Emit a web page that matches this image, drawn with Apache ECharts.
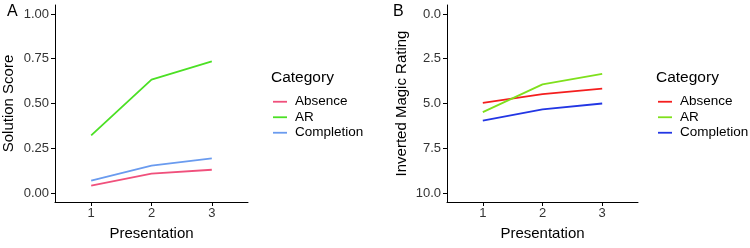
<!DOCTYPE html>
<html>
<head>
<meta charset="utf-8">
<script src="https://cdn.jsdelivr.net/npm/echarts@6/dist/echarts.min.js"></script>
<style>
  html, body { margin: 0; padding: 0; background: #fff; }
  #chart { width: 750px; height: 248px; }
</style>
</head>
<body>
<div id="chart"></div>
<script>
// data
var presentations = [1, 2, 3];
var categories = ['Absence', 'AR', 'Completion'];
// panel A: solution score
var scoreAbsence = [0.041, 0.108, 0.130];
var scoreAR = [0.322, 0.633, 0.735];
var scoreCompletion = [0.069, 0.153, 0.193];
// panel B: inverted magic rating
var ratingAbsence = [4.96, 4.48, 4.17];
var ratingAR = [5.48, 3.93, 3.34];
var ratingCompletion = [5.96, 5.33, 5.00];
// ticks
var ticksA = [0, 0.25, 0.5, 0.75, 1];
var ticksB = [0, 2.5, 5, 7.5, 10];

var colorsA = ['#F0507C', '#4BE024', '#6A9BEF'];
var colorsB = ['#F41E1E', '#7FE01C', '#2236E4'];

function pairs(vals) {
    return presentations.map(function (p, i) { return [p, vals[i]]; });
}

var font = 'Liberation Sans, Arial, sans-serif';
var tickColor = '#333';

function xAxis(grid) {
    return {
        type: 'value', gridIndex: grid, min: 0.4, max: 3.6, position: 'bottom',
        name: 'Presentation', nameLocation: 'middle', nameGap: 24,
        nameTextStyle: { fontFamily: font, fontSize: 15, color: '#000' },
        axisLine: { onZero: false, lineStyle: { color: '#000', width: 1 } },
        axisTick: { customValues: presentations, length: 4, lineStyle: { color: '#000' } },
        axisLabel: { customValues: presentations, fontFamily: font, fontSize: 13, color: tickColor, margin: 5 },
        splitLine: { show: false }
    };
}

function yAxis(grid, name, ticks, min, max, digits, inverse) {
    return {
        type: 'value', gridIndex: grid, min: min, max: max, inverse: inverse, position: 'left',
        name: name, nameLocation: 'middle', nameGap: grid === 0 ? 39 : 38,
        nameTextStyle: { fontFamily: font, fontSize: 15, color: '#000' },
        axisLine: { show: true, onZero: false, lineStyle: { color: '#000', width: 1 } },
        axisTick: { show: true, customValues: ticks, length: 4, lineStyle: { color: '#000' } },
        axisLabel: {
            customValues: ticks, fontFamily: font, fontSize: 13, color: tickColor, margin: 6,
            formatter: function (v) { return v.toFixed(digits); }
        },
        splitLine: { show: false }
    };
}

function lineSeries(name, vals, color, grid) {
    return {
        name: name, type: 'line', xAxisIndex: grid, yAxisIndex: grid,
        data: pairs(vals), symbol: 'none', silent: true,
        lineStyle: { color: color, width: 1.8 }, itemStyle: { color: color }
    };
}

function legend(left, colors) {
    return {
        left: left, top: 89, orient: 'vertical', icon: 'rect',
        itemWidth: 14, itemHeight: 1.8, itemGap: 0, selectedMode: false,
        textStyle: { fontFamily: font, fontSize: 13.5, color: '#000', lineHeight: 15.5, padding: [0, 0, 0, 3] },
        data: categories.map(function (c, i) {
            return { name: c, itemStyle: { color: colors[i] }, lineStyle: { color: colors[i] } };
        })
    };
}

var chart = echarts.init(document.getElementById('chart'), null, { renderer: 'canvas' });
var option = {
    animation: false,
    backgroundColor: '#fff',
    title: [
        { text: 'A', left: 2, top: -1, textStyle: { fontFamily: font, fontSize: 16, fontWeight: 'normal', color: '#000' } },
        { text: 'B', left: 388, top: -1, textStyle: { fontFamily: font, fontSize: 16, fontWeight: 'normal', color: '#000' } },
        { text: 'Category', left: 266, top: 65, textStyle: { fontFamily: font, fontSize: 15.5, fontWeight: 'normal', color: '#000' } },
        { text: 'Category', left: 651, top: 65, textStyle: { fontFamily: font, fontSize: 15.5, fontWeight: 'normal', color: '#000' } }
    ],
    grid: [
        { left: 55, top: 5, width: 193, height: 197 },
        { left: 447, top: 5, width: 191, height: 197 }
    ],
    xAxis: [xAxis(0), xAxis(1)],
    yAxis: [
        yAxis(0, 'Solution Score', ticksA, -0.05, 1.05, 2, false),
        yAxis(1, 'Inverted Magic Rating', ticksB, -0.5, 10.5, 1, true)
    ],
    legend: [legend(268, colorsA), legend(653, colorsB)],
    series: [
        lineSeries(categories[0], scoreAbsence, colorsA[0], 0),
        lineSeries(categories[1], scoreAR, colorsA[1], 0),
        lineSeries(categories[2], scoreCompletion, colorsA[2], 0),
        lineSeries(categories[0], ratingAbsence, colorsB[0], 1),
        lineSeries(categories[1], ratingAR, colorsB[1], 1),
        lineSeries(categories[2], ratingCompletion, colorsB[2], 1)
    ]
};
chart.setOption(option);
</script>
</body>
</html>
